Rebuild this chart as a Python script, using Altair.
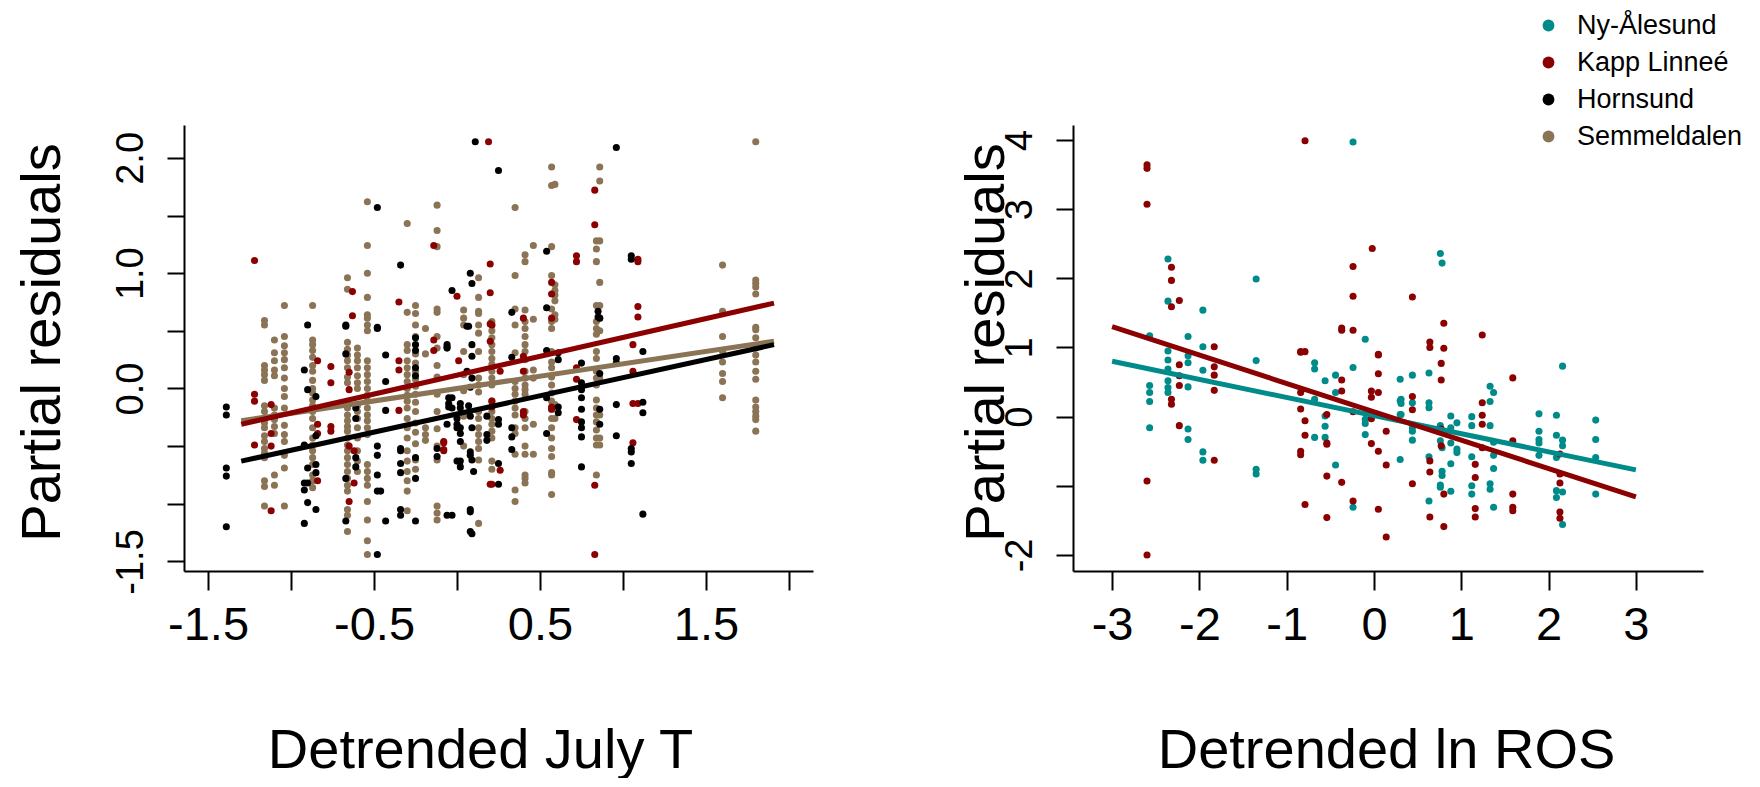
import altair as alt
import pandas as pd

SITES = ["Ny-Ålesund", "Kapp Linneé", "Hornsund", "Semmeldalen"]
SITE_COLORS = ["#008B8B", "#8B0000", "#000000", "#8B7355"]

# ---------------- Left panel: Detrended July T ----------------
SEM_X = [-1.16, -1.10, -1.04, -0.87, -0.66, -0.60, -0.54, -0.30, -0.25, -0.19, -0.12,
         0.04, 0.13, 0.21, 0.35, 0.41, 0.46, 0.57, 0.59, 0.84, 0.86, 1.60, 1.80]
SEM_Y = [
    [0.59, 0.55, 0.20, 0.16, 0.12, 0.07, -0.15, -0.20, -0.26, -0.30, -0.34, -0.41, -0.46, -0.52, -0.56, -0.60, -0.80, -0.85, -1.02],
    [0.42, 0.31, 0.24, 0.16, 0.11, -0.17, -0.23, -0.27, -0.33, -0.39, -0.75, -0.84],
    [0.72, 0.45, 0.37, 0.31, 0.25, 0.18, 0.09, 0.00, -0.07, -0.17, -0.32, -0.40, -0.46, -0.58, -0.69, -1.02],
    [0.72, 0.42, 0.38, 0.33, 0.27, 0.20, 0.15, 0.07, 0.00, -0.04, -0.10, -0.15, -0.20, -0.26, -0.34, -0.43, -0.49, -0.54, -0.60, -0.66, -0.75, -0.80, -0.86],
    [0.96, 0.86, 0.40, 0.34, 0.29, 0.24, 0.18, 0.10, 0.05, -0.13, -0.17, -0.23, -0.28, -0.33, -0.37, -0.43, -0.49, -0.54, -0.60, -0.66, -0.72, -0.78, -0.84, -0.89, -1.05, -1.10, -1.24],
    [0.35, 0.29, 0.24, 0.18, 0.11, 0.05, 0.00, -0.15, -0.20, -0.26, -0.34, -0.43, -0.54, -0.63, -0.72],
    [1.62, 1.24, 1.00, 0.79, 0.64, 0.61, 0.55, 0.50, 0.24, 0.18, 0.12, 0.06, 0.00, -0.06, -0.11, -0.17, -0.23, -0.28, -0.34, -0.40, -0.66, -0.72, -0.78, -0.84, -0.98, -1.14, -1.32, -1.44],
    [1.43, 0.66, 0.38, 0.33, 0.24, 0.18, 0.12, 0.06, 0.00, -0.06, -0.11, -0.17, -0.26, -0.34, -0.43, -0.54, -0.63, -0.72, -0.80, -0.89, -1.06],
    [0.72, 0.65, 0.55, 0.45, 0.30, 0.22, 0.15, 0.08, 0.02, -0.05, -0.12, -0.20, -0.30, -0.38, -0.48, -0.62, -0.70],
    [0.52, 0.30, -0.34, -0.40, -0.45],
    [1.59, 1.37, 1.23, 0.69, 0.66, 0.45, 0.35, 0.20, 0.10, -0.05, -0.20, -0.35, -0.50, -0.62, -1.02, -1.08, -1.14],
    [0.68, 0.61, 0.55, 0.32, 0.12, -0.02, -0.24, -0.50],
    [0.96, 0.79, 0.67, 0.65, 0.55, 0.48, 0.32, 0.09, 0.03, -0.03, -0.20, -0.26, -0.34, -0.40, -0.46, -0.52, -0.62, -1.17],
    [0.58, 0.55, 0.50, 0.44, 0.38, 0.32, 0.26, 0.21, 0.15, 0.09, 0.03, -0.11, -0.20, -0.26, -0.31, -0.37, -0.43, -0.63, -0.70],
    [1.57, 0.98, 0.69, 0.55, 0.31, 0.06, 0.00, -0.05, -0.11, -0.17, -0.23, -0.34, -0.39, -0.57, -0.88, -0.98],
    [1.16, 1.10, 0.68, 0.58, 0.52, 0.45, 0.38, 0.32, 0.25, 0.15, 0.09, 0.03, -0.01, -0.05, -0.20, -0.26, -0.34, -0.50, -0.57, -0.75, -0.78, -0.82],
    [1.24, 0.60, 0.16, 0.09, -0.31, -0.57],
    [1.92, 1.76, 1.23, 0.98, 0.69, 0.58, 0.52, 0.32, 0.23, 0.18, 0.10, 0.03, -0.04, -0.11, -0.18, -0.26, -0.34, -0.43, -0.52, -0.59, -0.73, -0.75, -0.92],
    [1.77, 0.90, 0.85, 0.81, 0.76, 0.64, 0.60, -0.14, -0.26],
    [1.28, 1.21, 1.10, 0.72, 0.58, 0.52, 0.47, 0.32, 0.26, 0.15, 0.09, 0.03, -0.10, -0.17, -0.23, -0.29, -0.36, -0.43, -0.49, -0.75],
    [1.92, 1.80, 1.28, 0.92, 0.72, 0.61, 0.50, 0.09, -0.23, -0.43, -0.49],
    [1.07, 0.67, 0.45, 0.32, 0.23, 0.13, 0.06, -0.08],
    [2.14, 0.94, 0.91, 0.88, 0.82, 0.53, 0.51, 0.44, 0.35, 0.29, 0.23, 0.15, 0.08, -0.10, -0.16, -0.20, -0.24, -0.27, -0.37],
]

KAPP_T_X = [-1.22, -1.12, -0.84, -0.76, -0.65, -0.63, -0.62, -0.35, -0.14, -0.08, 0.00, 0.01,
            0.19, 0.20, 0.21, 0.26, 0.40, 0.57, 0.72, 0.83, 1.06, 1.09]
KAPP_T_Y = [
    [1.11, -0.05, -0.11, -0.49], [-0.14, -0.39, -0.50, -1.06], [0.24, -0.31, -0.39, -0.80],
    [0.19, 0.05, -0.33, -0.37], [0.14, -0.01, -0.50, -0.98], [0.84, 0.63], [-0.54, -0.82],
    [0.75, 0.24, 0.16, -0.19], [1.24, 0.42, 0.33], [-0.47, -0.54, -0.46, -0.53], [0.80], [0.24],
    [2.14], [1.08, 0.83, 0.56, 0.41, -0.83], [0.55, -0.11, -0.16, -0.83], [0.15, -0.71],
    [0.61, 0.28, 0.15, -0.20, -0.23], [0.92, 0.82, 0.61, -0.16, -0.18], [1.15, 1.10, 0.18, 0.08, -0.27],
    [1.72, 1.42, -0.84, -1.44], [0.38, 0.15, -0.13, -0.47], [1.12, 1.10, 0.71, 0.62, -0.13],
]

HORN_X = [-1.39, -0.92, -0.90, -0.85, -0.67, -0.61, -0.48, -0.46, -0.43, -0.34, -0.25, -0.12,
          -0.06, -0.05, -0.03, 0.00, 0.02, 0.06, 0.07, 0.08, 0.09, 0.10, 0.11, 0.18, 0.25, 0.33,
          0.54, 0.61, 0.75, 0.85, 0.86, 0.96, 1.05, 1.12]
HORN_Y = [
    [-0.16, -0.23, -0.69, -0.76, -1.20], [0.16, -0.49, -0.82, -0.88, -1.17], [0.55, -0.01, -0.69, -0.82, -0.99],
    [-0.07, -0.41, -0.66, -0.73, -1.05], [0.54, 0.55, 0.30, -0.78, -1.15], [-0.17, -0.26, -0.60, -0.68],
    [1.57, 0.53, 0.52, -0.50, -0.58, -0.75, -0.89, -1.44], [-0.89], [0.29, 0.06, -0.19, -1.15],
    [1.07, -0.52, -0.54, -0.65, -0.73, -1.05, -1.10], [0.44, 0.38, 0.33, 0.18, 0.11, -0.60, -0.78, -1.15],
    [-0.52, -0.59], [0.38, 0.36, 0.35, -0.31, -1.10], [-0.16, -0.08, -0.13], [0.85, -0.17, -1.10, -0.08],
    [-0.34, -0.63, -0.26, -0.31], [-0.13, -0.17, -0.34, -0.39, -0.46, -0.63, -0.68], [0.54, 0.15],
    [0.54, -0.15], [1.00, 0.01, -0.24, -0.55, -0.58, -1.07, -1.05, -1.24],
    [0.91, 0.38, 0.28, 0.09, -0.62, -0.34, -1.26], [-0.72], [2.14], [-0.24, -0.40, -0.45],
    [1.89, -0.27, -0.31, -0.65, -0.83], [0.66, 0.27, -0.34, -0.42, -0.53], [1.19, 0.70, 0.33, -0.08, -0.39],
    [0.31, 0.25, -0.16, -0.21], [0.22, 0.05, -0.01, -0.08, -0.18, -0.29, -0.34, -0.42, -0.68],
    [0.67, 0.62], [0.61, 0.13, -0.18, -0.31], [2.09, 0.26, 0.22, -0.14, -0.41],
    [1.15, 1.12, -0.52, -0.55, -0.65], [0.32, -0.12, -0.21, -1.09],
]

FIT_T_X = [-1.30, 1.91]
FIT_T_SEM = [-0.28, 0.41]
FIT_T_HORN = [-0.63, 0.38]
FIT_T_KAPP = [-0.31, 0.74]

# ---------------- Right panel: Detrended ln ROS ----------------
NY_X = [-2.57, -2.36, -2.13, -1.96, -1.35, -0.68, -0.56, -0.44, -0.24, -0.10, 0.30, 0.31, 0.44,
        0.63, 0.76, 0.78, 0.88, 0.95, 1.12, 1.33, 1.37, 1.89, 2.09, 2.16, 2.54]
NY_Y = [
    [1.17, 0.45, 0.35, 0.22, -0.16], [2.28, 1.67, 0.95, 0.82, 0.69, 0.52, 0.42, 0.35],
    [1.16, 0.88, 0.78, 0.43, -0.18, -0.33], [1.54, 1.01, 0.67, -0.51, -0.63], [1.99, 0.81, -0.76, -0.83],
    [0.78, 0.69, 0.25, -0.30], [0.52, 0.01, -0.14, -0.30], [0.60, 0.35, -0.70], [3.97, 0.71, -1.31],
    [1.12, -0.04, -0.10, -0.26], [0.54, 0.23, 0.03, -0.62], [0.25, 0.19, 0.03],
    [0.60, 0.20, -0.16, -0.21, -0.34], [0.63, 0.20, 0.13, -0.58, -1.22], [2.36, -0.13, -0.35, -0.99, -1.02],
    [2.22, -0.45, -0.79, -0.85], [0.01, -0.16, -0.38, -0.68, -1.08], [-0.09, -0.47, -0.52],
    [0.00, -0.13, -0.58, -1.00, -1.12], [0.44, 0.22, -0.13, -0.97, -1.05], [0.35, -0.37, -0.56, -0.75, -1.31],
    [0.04, -0.21, -0.33, -0.38, -0.56], [0.02, -0.27, -0.59, -1.07, -1.17], [0.73, -0.34, -0.42, -1.09, -1.56],
    [-0.05, -0.33, -0.59, -1.12],
]

KAPP_R_X = [-2.60, -2.32, -2.23, -1.83, -0.84, -0.79, -0.54, -0.37, -0.24, -0.03, -0.02, 0.05, 0.14,
            0.44, 0.64, 0.77, 0.80, 1.16, 1.24, 1.59, 2.13]
KAPP_R_Y = [
    [3.64, 3.59, 3.07, -0.93, -2.00], [2.16, 1.97, 1.59, 0.25, 0.18], [1.68, 0.75, 0.59, 0.45, -0.13],
    [1.01, 0.72, 0.60, 0.38, -0.63], [0.94, 0.93, 0.35, 0.11, -0.50, -0.55], [3.99, 0.94, -0.06, -0.27, -1.27],
    [0.03, -0.38, -0.40, -0.86, -1.46], [1.28, 1.25, 0.53, 0.37, -0.95], [2.17, 1.74, 1.25, 0.07, -1.22],
    [0.37, 0.28, -0.03, -0.39], [2.43], [0.90, 0.89, 0.62, 0.35, -0.50, -1.34], [-0.21, -0.70, -1.74],
    [1.73, 0.29, 0.10, -0.97], [1.08, 1.00, -0.64, -0.80, -1.45], [0.77, 0.53, -0.18, -0.42],
    [1.35, 0.99, -1.12, -1.59], [-0.69, -0.88, -1.33, -1.45], [1.18, 0.20, 0.02, -0.11, -0.45],
    [0.56, -0.35, -1.12, -1.31, -1.36], [-0.54, -0.83, -0.96, -1.38, -1.47],
]

FIT_R_X = [-3.0, 3.0]
FIT_R_NY = [0.80, -0.77]
FIT_R_KAPP = [1.30, -1.16]


def expand(site, xs, yss):
    return [{"site": site, "x": x, "y": y} for x, ys in zip(xs, yss) for y in ys]


def fit(site, xs, ys):
    return pd.DataFrame({"site": site, "x": xs, "y": ys})


FONT = "Liberation Sans"
color_scale = alt.Scale(domain=SITES, range=SITE_COLORS)

left_pts = pd.DataFrame(expand("Semmeldalen", SEM_X, SEM_Y)
                        + expand("Kapp Linneé", KAPP_T_X, KAPP_T_Y)
                        + expand("Hornsund", HORN_X, HORN_Y))
right_pts = pd.DataFrame(expand("Ny-Ålesund", NY_X, NY_Y)
                         + expand("Kapp Linneé", KAPP_R_X, KAPP_R_Y))


def panel(pts, fits, xdom, ydom, xvals, xlab, yvals, ylab, xtitle, xtitle_x, ytitle_x, w, h):
    xenc = alt.X("x:Q", scale=alt.Scale(domain=xdom, nice=False, zero=False),
                 axis=alt.Axis(values=xvals, labelExpr=xlab, title=xtitle,
                               tickSize=19, labelPadding=12, labelBaseline="top",
                               labelFontSize=47, titleFontSize=56,
                               titleX=xtitle_x, titleY=196, titleAlign="center",
                               titleBaseline="alphabetic"))
    yenc = alt.Y("y:Q", scale=alt.Scale(domain=ydom, nice=False, zero=False),
                 axis=alt.Axis(values=yvals, labelExpr=ylab, title="Partial residuals",
                               tickSize=17, labelPadding=25, labelAngle=270,
                               labelAlign="center", labelBaseline="alphabetic",
                               labelFontSize=38, titleFontSize=56, titleAngle=270,
                               titleX=ytitle_x, titleY=h / 2 - 6, titleAlign="center",
                               titleBaseline="alphabetic"))
    layers = [alt.Chart(pts).mark_circle(size=50, opacity=1).encode(
        x=xenc, y=yenc,
        color=alt.Color("site:N", scale=color_scale,
                        legend=alt.Legend(title=None, orient="none", legendX=1351, legendY=-113,
                                          symbolType="circle", symbolSize=140, labelFontSize=27,
                                          labelFont=FONT, labelOffset=15, rowPadding=9,
                                          labelLimit=400, padding=0, symbolStrokeWidth=0)))]
    for df in fits:
        layers.append(alt.Chart(df).mark_line(strokeWidth=5, strokeCap="butt").encode(
            x=alt.X("x:Q"), y=alt.Y("y:Q"),
            color=alt.Color("site:N", scale=color_scale, legend=None)))
    return alt.layer(*layers).properties(width=w, height=h)


left = panel(
    left_pts,
    [fit("Semmeldalen", FIT_T_X, FIT_T_SEM), fit("Hornsund", FIT_T_X, FIT_T_HORN),
     fit("Kapp Linneé", FIT_T_X, FIT_T_KAPP)],
    [-1.645, 2.145], [-1.583, 2.285],
    [-1.5, -1.0, -0.5, 0.0, 0.5, 1.0, 1.5, 2.0],
    "indexof([-1.5, -0.5, 0.5, 1.5], datum.value) >= 0 ? '' + datum.value : ''",
    [-1.5, -1.0, -0.5, 0.0, 0.5, 1.0, 1.5, 2.0],
    "datum.value == 2 ? '2.0' : datum.value == 1 ? '1.0' : datum.value == 0 ? '0.0' : datum.value == -1.5 ? '-1.5' : ''",
    "Detrended July T", 296, -125, 629, 446)

right = panel(
    right_pts,
    [fit("Ny-Ålesund", FIT_R_X, FIT_R_NY), fit("Kapp Linneé", FIT_R_X, FIT_R_KAPP)],
    [-3.448, 3.769], [-2.232, 4.217],
    [-3, -2, -1, 0, 1, 2, 3],
    "'' + datum.value",
    [-2, -1, 0, 1, 2, 3, 4],
    "datum.value == -1 ? '' : '' + datum.value",
    "Detrended ln ROS", 313, -70, 630, 446)

chart = alt.hconcat(left, right, spacing=144).resolve_scale(color="shared").properties(
    padding={"left": 6, "top": 4, "right": 0, "bottom": 0}
).configure_view(stroke=None).configure_axis(
    grid=False, domainColor="black", domainWidth=2, tickColor="black", tickWidth=2,
    labelColor="black", titleColor="black", labelFont=FONT, titleFont=FONT,
    titleFontWeight="normal", labelOverlap=False, labelFlush=False, labelBound=False
).configure_legend(labelColor="black")

chart.save("out.html", embed_options={"renderer": "svg", "actions": False})
